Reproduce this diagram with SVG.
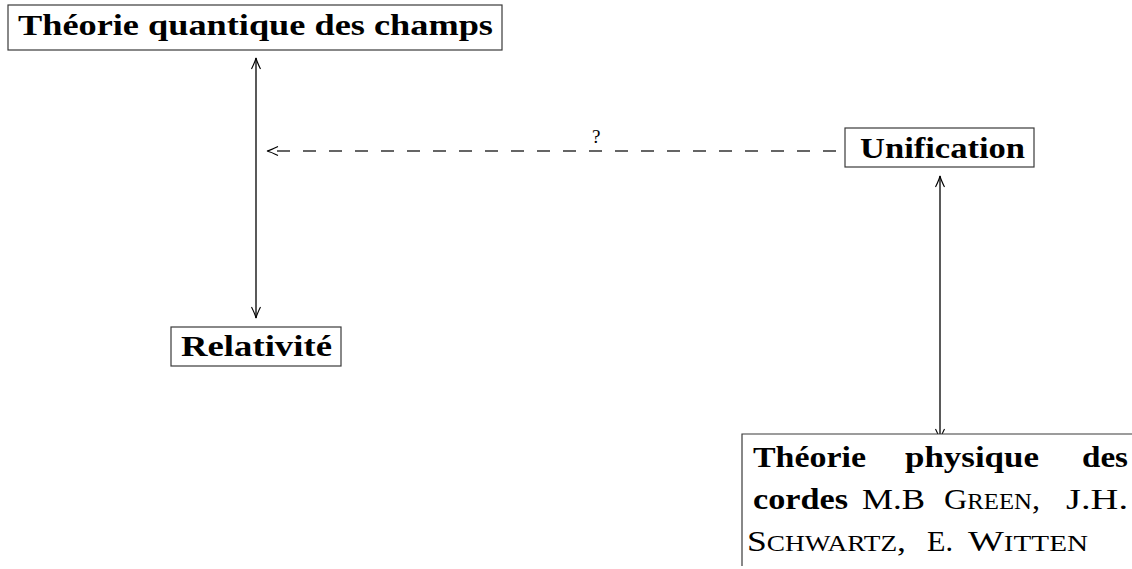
<svg xmlns="http://www.w3.org/2000/svg" width="1132" height="569" viewBox="0 0 1132 569">
<style>
.box{fill:#fff;stroke:#3a3a3a;stroke-width:1.2}
.b{font-family:"Liberation Serif",serif;font-weight:bold;font-size:30px;fill:#000}
.r{font-family:"Liberation Serif",serif;font-size:30px;fill:#000}
.sc{font-size:23px}
.arr{fill:none;stroke:#000;stroke-width:1.3}
.dash{fill:none;stroke:#333;stroke-width:1.3;stroke-dasharray:13 13}
.lbl{font-family:"Liberation Serif",serif;font-size:19px;fill:#000}
</style>
<defs>
<marker id="ah" viewBox="-12 -5 13 10" refX="0" refY="0" markerWidth="13" markerHeight="10" markerUnits="userSpaceOnUse" orient="auto-start-reverse">
<path d="M-11,-4.5 Q-4,-1 0,0 Q-4,1 -11,4.5" fill="none" stroke="#000" stroke-width="1.1"/>
</marker>
</defs>
<g id="connectors">
<path class="arr" d="M256,58 V318" marker-start="url(#ah)" marker-end="url(#ah)"/>
<path class="arr" d="M940,176 V440" marker-start="url(#ah)" marker-end="url(#ah)"/>
<path class="dash" d="M836,151 H267" marker-end="url(#ah)"/>
<text class="lbl" x="592" y="143">?</text>
</g>
<g id="qft">
<rect class="box" x="8" y="5" width="494" height="45"/>
<text class="b" x="18" y="35" textLength="475" lengthAdjust="spacingAndGlyphs">Théorie quantique des champs</text>
</g>
<g id="relativite">
<rect class="box" x="171" y="327" width="170" height="39"/>
<text class="b" x="181" y="356" textLength="151" lengthAdjust="spacingAndGlyphs">Relativité</text>
</g>
<g id="unification">
<rect class="box" x="845" y="128" width="189" height="39"/>
<text class="b" x="860" y="158" textLength="165" lengthAdjust="spacingAndGlyphs">Unification</text>
</g>
<g id="cordes">
<path class="box" d="M742,566 V434 H1132" fill="none"/>
<text class="b" x="753" y="467" textLength="113" lengthAdjust="spacingAndGlyphs">Théorie</text>
<text class="b" x="905" y="467" textLength="134" lengthAdjust="spacingAndGlyphs">physique</text>
<text class="b" x="1082" y="467" textLength="46" lengthAdjust="spacingAndGlyphs">des</text>
<text class="b" x="753" y="509" textLength="95" lengthAdjust="spacingAndGlyphs">cordes</text>
<text class="r" x="862" y="509" textLength="63" lengthAdjust="spacingAndGlyphs">M.B</text>
<text class="r" x="944" y="509" textLength="96" lengthAdjust="spacingAndGlyphs">G<tspan class="sc">REEN</tspan>,</text>
<text class="r" x="1066" y="509" textLength="62" lengthAdjust="spacingAndGlyphs">J.H.</text>
<text class="r" x="747" y="551" textLength="159" lengthAdjust="spacingAndGlyphs">S<tspan class="sc">CHWARTZ</tspan>,</text>
<text class="r" x="927" y="551" textLength="26" lengthAdjust="spacingAndGlyphs">E.</text>
<text class="r" x="968" y="551" textLength="120" lengthAdjust="spacingAndGlyphs">W<tspan class="sc">ITTEN</tspan></text>
</g>
</svg>
